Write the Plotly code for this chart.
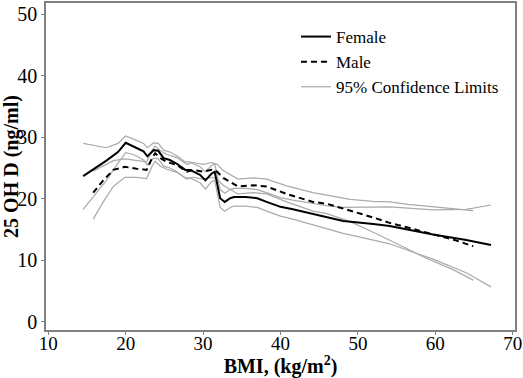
import plotly.graph_objects as go

# Female
x_f = [14.5, 16, 17.5, 19, 20, 21, 22.3, 22.8, 23.6, 24.2, 24.9, 25.7, 26.6, 27.7, 28.3, 29.6, 30.3, 31.1, 31.5,
       32.2, 32.8, 33.5, 34, 35.5, 37, 38.2, 40, 41.6, 44.2, 46.4, 48.1, 52, 54.1, 59.7, 64, 67.2]
y_f = [23.7, 24.9, 26.2, 27.6, 29.1, 28.5, 27.7, 26.9, 27.9, 27.8, 26.6, 26.3, 25.7, 24.7, 24.7, 23.9, 23.0, 24.1, 24.4,
       20.1, 19.5, 20.1, 20.3, 20.3, 20.1, 19.5, 18.7, 18.3, 17.5, 16.9, 16.4, 15.9, 15.6, 14.2, 13.3, 12.5]
f_upper = [29.0, 28.6, 28.3, 29.0, 30.2, 29.7, 29.0, 28.3, 29.1, 29.0, 27.9, 27.6, 27.0, 26.0, 26.0, 25.2, 24.4, 25.4, 25.7,
           21.5, 20.9, 21.5, 21.7, 21.7, 21.5, 21.0, 20.2, 19.8, 19.2, 18.8, 18.6, 18.6, 18.7, 18.2, 18.3, 19.0]
f_lower = [18.3, 20.6, 23.0, 25.8, 27.5, 27.2, 26.3, 25.5, 26.6, 26.5, 25.3, 25.0, 24.4, 23.4, 23.4, 22.6, 21.6, 22.8, 23.0,
           18.6, 18.0, 18.6, 18.8, 18.8, 18.6, 18.0, 17.2, 16.7, 15.8, 15.0, 14.4, 13.3, 12.7, 10.2, 8.0, 5.7]

# Male
x_m = [15.8, 17.1, 18.4, 19.9, 21.4, 22.7, 23.4, 23.8, 24.5, 25.3, 26.6, 27.9, 28.7, 30.0, 31.1, 31.8, 32.6, 34.5,
       36.5, 38.2, 40.8, 44.2, 46.0, 49.0, 51.9, 54.1, 56.5, 58.9, 62.3, 64.9]
y_m = [21.0, 23.0, 24.7, 25.2, 24.9, 24.7, 26.6, 27.4, 26.6, 26.0, 25.5, 24.4, 24.7, 24.4, 24.7, 24.4, 23.4, 22.0,
       22.2, 22.0, 20.8, 19.5, 19.2, 18.1, 17.0, 16.1, 15.3, 14.5, 13.4, 12.3]
m_upper = [24.5, 25.3, 26.2, 26.5, 26.2, 26.0, 27.8, 28.6, 27.8, 27.2, 26.7, 25.6, 25.9, 25.6, 25.9, 25.6, 24.6, 23.2,
           23.4, 23.2, 22.1, 21.0, 20.6, 19.9, 19.6, 19.5, 19.1, 18.8, 18.4, 18.1]
m_lower = [16.7, 19.5, 22.0, 23.5, 23.5, 23.3, 25.3, 26.1, 25.3, 24.8, 24.3, 23.2, 23.5, 23.2, 23.5, 23.2, 22.2, 20.8,
           21.0, 20.8, 19.5, 18.0, 17.6, 16.3, 14.6, 13.3, 11.8, 10.3, 8.5, 6.8]

x_ticks = [10, 20, 30, 40, 50, 60, 70]
y_ticks = [0, 10, 20, 30, 40, 50]

FONT = "Liberation Serif, Times New Roman, serif"
GREY = "#aaaaaa"

fig = go.Figure()
ci_sets = [(x_f, f_upper), (x_f, f_lower), (x_m, m_upper), (x_m, m_lower)]
for i, (xx, yy) in enumerate(ci_sets):
    fig.add_trace(go.Scatter(x=xx, y=yy, mode="lines", line=dict(color=GREY, width=1.2),
                             name="95% Confidence Limits", legendgroup="ci",
                             showlegend=(i == 0), legendrank=3))
fig.add_trace(go.Scatter(x=x_f, y=y_f, mode="lines", line=dict(color="black", width=2),
                         name="Female", legendrank=1))
fig.add_trace(go.Scatter(x=x_m, y=y_m, mode="lines", line=dict(color="black", width=2, dash="6px,4px"),
                         name="Male", legendrank=2))

axis_common = dict(showgrid=False, zeroline=False, showline=True, linecolor="#808080", linewidth=1.5,
                   mirror=True, ticks="outside", ticklen=3, tickcolor="#808080", automargin=False)

fig.update_layout(
    width=523, height=378,
    margin=dict(l=46, r=8, t=3, b=48),
    paper_bgcolor="white", plot_bgcolor="white",
    font=dict(family=FONT, color="black"),
    legend=dict(x=0.533, y=0.951, xanchor="left", yanchor="top", bgcolor="rgba(0,0,0,0)",
                font=dict(family=FONT, size=17, color="black"), tracegroupgap=0),
    xaxis=dict(range=[9.7, 70.3], tickvals=x_ticks, ticklabelstandoff=-8,
               tickfont=dict(family=FONT, size=19, color="black"),
               title=dict(text="<b>BMI, (kg/m<sup>2</sup>)</b>", font=dict(family=FONT, size=20), standoff=6),
               **axis_common),
    yaxis=dict(range=[-1.3, 51.8], tickvals=y_ticks,
               tickfont=dict(family=FONT, size=20, color="black"),
               title=dict(text="<b>25 OH D (ng/ml)</b>", font=dict(family=FONT, size=20), standoff=0),
               **axis_common),
)

fig.write_html("out.html", include_plotlyjs=True, config={"displayModeBar": False},
               post_script="document.body.style.margin='0px';document.body.style.padding='0px';")
